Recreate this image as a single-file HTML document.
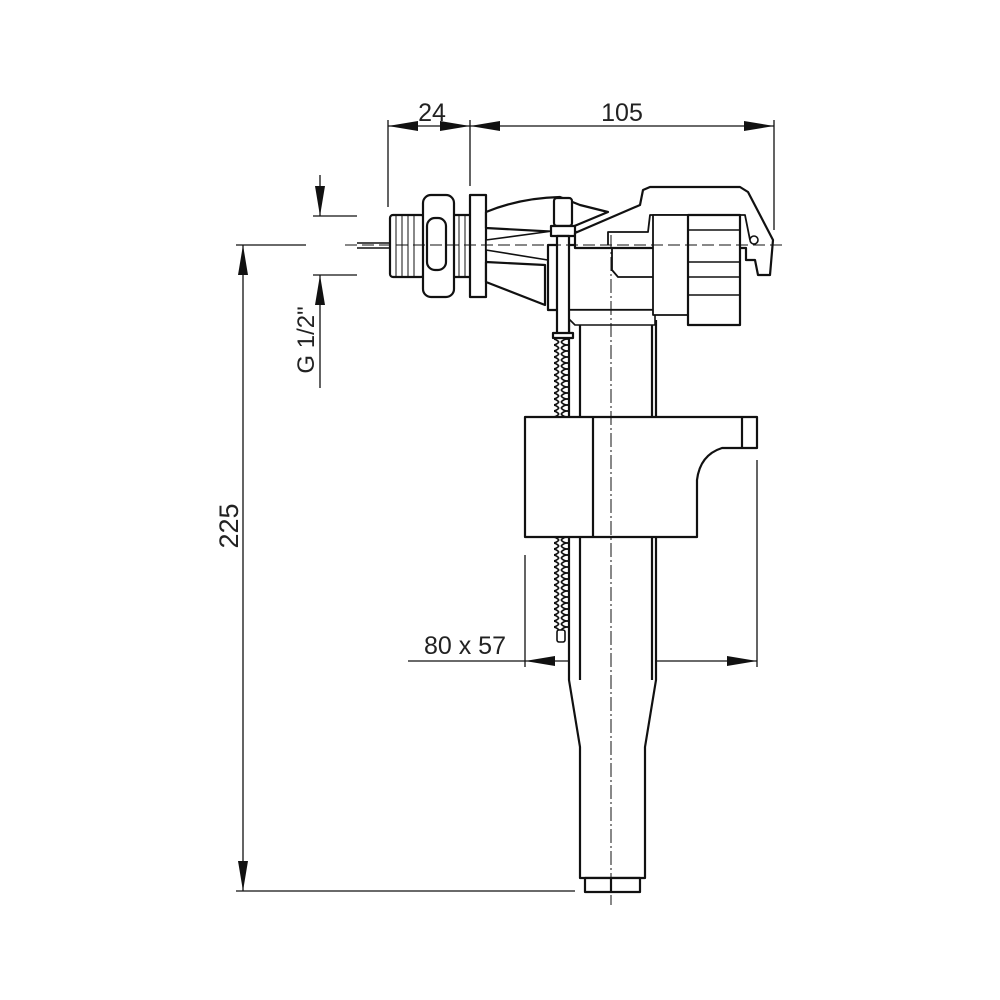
<!DOCTYPE html>
<html><head><style>html,body{margin:0;padding:0;background:#fff}svg{display:block}text{font-family:"Liberation Sans",Arial,sans-serif;fill:#222}</style></head>
<body>
<svg width="1000" height="1000" viewBox="0 0 1000 1000" xmlns="http://www.w3.org/2000/svg">
<defs>
<marker id="a" viewBox="0 0 30 10" refX="30" refY="5" markerWidth="30" markerHeight="10" markerUnits="userSpaceOnUse" orient="auto"><path d="M0,0 L30,5 L0,10 Z" fill="#111"/></marker>
<pattern id="sp" x="0" y="0" width="14" height="6" patternUnits="userSpaceOnUse"><path d="M1,0 Q7,6 13,0 M1,6 Q7,0 13,6" stroke="#111" stroke-width="1.6" fill="none"/></pattern>
</defs>
<g stroke="#111" stroke-width="1.3" fill="none">
<line x1="388" y1="120" x2="388" y2="207"/>
<line x1="470" y1="120" x2="470" y2="186"/>
<line x1="774" y1="120" x2="774" y2="230"/>
<line x1="430" y1="126" x2="388" y2="126" marker-end="url(#a)"/>
<line x1="430" y1="126" x2="470" y2="126" marker-end="url(#a)"/>
<line x1="620" y1="126" x2="470" y2="126" marker-end="url(#a)"/>
<line x1="620" y1="126" x2="774" y2="126" marker-end="url(#a)"/>
<line x1="313" y1="216" x2="357" y2="216"/>
<line x1="313" y1="275" x2="357" y2="275"/>
<line x1="320" y1="175" x2="320" y2="216" marker-end="url(#a)"/>
<line x1="320" y1="388" x2="320" y2="275" marker-end="url(#a)"/>
<line x1="236" y1="245" x2="306" y2="245"/>
<line x1="236" y1="891" x2="575" y2="891"/>
<line x1="243" y1="560" x2="243" y2="245" marker-end="url(#a)"/>
<line x1="243" y1="560" x2="243" y2="891" marker-end="url(#a)"/>
<line x1="525" y1="555" x2="525" y2="667"/>
<line x1="757" y1="460" x2="757" y2="667"/>
<line x1="408" y1="661" x2="525" y2="661"/>
<line x1="640" y1="661" x2="525" y2="661" marker-end="url(#a)"/>
<line x1="640" y1="661" x2="757" y2="661" marker-end="url(#a)"/>
</g>
<text x="432" y="121" font-size="25" text-anchor="middle">24</text>
<text x="622" y="121" font-size="25" text-anchor="middle">105</text>
<text x="465" y="654" font-size="25" text-anchor="middle">80 x 57</text>
<text transform="translate(238,526) rotate(-90)" font-size="27" text-anchor="middle">225</text>
<text transform="translate(314,340) rotate(-90)" font-size="24" text-anchor="middle">G 1/2"</text>

<g stroke="#111" stroke-width="2.2" fill="#fff" stroke-linejoin="round">
<path d="M569,320 L569,680 L580,747 L580,878 L645,878 L645,747 L656,680 L656,320"/>
<line x1="580" y1="320" x2="580" y2="680"/>
<line x1="652" y1="320" x2="652" y2="680"/>
<rect x="585" y="878" width="55" height="14"/>
<line x1="611" y1="878" x2="611" y2="892"/>
<rect x="554" y="338" width="14" height="82" fill="url(#sp)" stroke="none"/>
<rect x="554" y="537" width="14" height="94" fill="url(#sp)" stroke="none"/>
<rect x="557" y="630" width="8" height="12" rx="2" stroke-width="1.6"/>
<path d="M525,417 L757,417 L757,448 L722,448 Q700,455 697,480 L697,537 L525,537 Z"/>
<line x1="742" y1="417" x2="742" y2="448"/>
<line x1="593" y1="417" x2="593" y2="537"/>
<line x1="357" y1="243" x2="390" y2="243" stroke-width="1.5"/>
<line x1="357" y1="248" x2="390" y2="248" stroke-width="1.5"/>
<rect x="390" y="215" width="34" height="62" rx="3"/>
<line x1="396" y1="215" x2="396" y2="277" stroke-width="1"/><line x1="402" y1="215" x2="402" y2="277" stroke-width="1"/><line x1="408" y1="215" x2="408" y2="277" stroke-width="1"/><line x1="414" y1="215" x2="414" y2="277" stroke-width="1"/>
<rect x="453" y="215" width="18" height="62"/>
<line x1="459" y1="215" x2="459" y2="277" stroke-width="1"/><line x1="465" y1="215" x2="465" y2="277" stroke-width="1"/>
<rect x="423" y="195" width="31" height="102" rx="8"/>
<rect x="427" y="218" width="19" height="52" rx="8"/>
<rect x="470" y="195" width="16" height="102"/>
<path d="M486,212 Q520,198 560,197 L580,205 L608,212 L560,232 L486,228 Z"/>
<path d="M486,262 L545,265 L545,305 L486,282 Z"/>
<path d="M486,240 L560,230 L640,238 L640,245 L560,262 L486,250 Z" stroke-width="1.6"/>
<path d="M548,245 L655,245 L655,310 L548,310 Z"/>
<path d="M560,310 L655,310 L655,325 L575,325 Z" stroke-width="1.6"/>
<rect x="554" y="198" width="18" height="28" rx="3"/>
<rect x="551" y="226" width="24" height="10"/>
<rect x="557" y="236" width="12" height="100"/>
<rect x="553" y="333" width="20" height="5"/>
<path d="M575,233 L640,205 L643,190 L650,187 L740,187 L748,192 L773,240 L770,275 L758,275 L755,260 L746,260 L746,248 L575,248 Z"/>
<path d="M608,245 L608,232 L648,232 L650,215 L745,215 L750,240" fill="none" stroke-width="1.8"/>
<rect x="653" y="215" width="35" height="100" stroke-width="1.8"/>
<rect x="688" y="215" width="52" height="110"/>
<line x1="688" y1="230" x2="740" y2="230" stroke-width="1.6"/>
<line x1="688" y1="262" x2="740" y2="262" stroke-width="1.6"/>
<line x1="688" y1="277" x2="740" y2="277" stroke-width="1.6"/>
<line x1="688" y1="295" x2="740" y2="295" stroke-width="1.6"/>
<path d="M612,248 L612,270 L618,277 L653,277" fill="none" stroke-width="1.8"/>
<circle cx="754" cy="240" r="4" stroke-width="1.6"/>
</g>
<g stroke="#111" stroke-width="1" fill="none">
<line x1="345" y1="245" x2="785" y2="245" stroke-dasharray="12 5"/>
<line x1="611" y1="235" x2="611" y2="905" stroke-dasharray="14 3 2 3"/>
</g>
</svg>
</body></html>
